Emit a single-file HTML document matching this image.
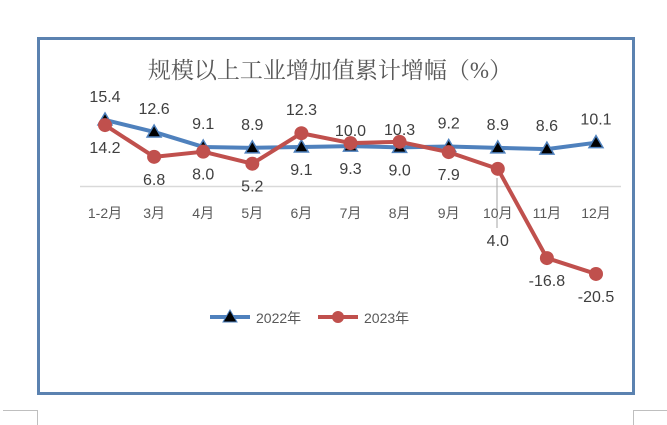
<!DOCTYPE html>
<html><head><meta charset="utf-8"><style>
html,body{margin:0;padding:0;background:#fff;width:667px;height:425px;overflow:hidden}
svg{display:block}
</style></head><body>
<svg width="667" height="425" xmlns="http://www.w3.org/2000/svg">
<rect x="38.5" y="38.5" width="595" height="355" fill="#fff" stroke="#5B82B0" stroke-width="3"/>
<g stroke="#bfbfbf" stroke-width="1">
<line x1="3" y1="410.5" x2="37" y2="410.5"/><line x1="37.5" y1="410" x2="37.5" y2="425"/>
<line x1="633.5" y1="410" x2="633.5" y2="425"/><line x1="633" y1="410.5" x2="667" y2="410.5"/>
</g>
<text x="330" y="78" text-anchor="middle" font-family="'Liberation Serif','Noto Serif CJK SC',serif" font-size="23" fill="#595959">规模以上工业增加值累计增幅（%）</text>
<line x1="80" y1="186.5" x2="621" y2="186.5" stroke="#d9d9d9" stroke-width="1.5"/>
<line x1="497" y1="228" x2="497" y2="178" stroke="#a6a6a6" stroke-width="1"/>
<g id="xlabels"></g>
<g id="series"></g>
<g>
<g>
<line x1="210" y1="317" x2="250" y2="317" stroke="#4F81BD" stroke-width="4"/>
<polygon points="230,310 237,322 223,322" fill="#000" stroke="#4F81BD" stroke-width="1"/>
<text x="256" y="323" font-family="'Liberation Sans','Noto Sans CJK SC',sans-serif" font-size="14" fill="#595959">2022年</text>
</g>
<g>
<line x1="318" y1="317" x2="358" y2="317" stroke="#C0504D" stroke-width="4"/>
<circle cx="338" cy="317" r="6" fill="#C0504D"/>
<text x="364" y="323" font-family="'Liberation Sans','Noto Sans CJK SC',sans-serif" font-size="14" fill="#595959">2023年</text>
</g>
</g>
</svg>
<script>
const categories=["1-2月","3月","4月","5月","6月","7月","8月","9月","10月","11月","12月"];
const values2022=[15.4,12.6,9.1,8.9,9.1,9.3,9.0,9.2,8.9,8.6,10.1];
const values2023=[14.2,6.8,8.0,5.2,12.3,10.0,10.3,7.9,4.0,-16.8,-20.5];
const labels2022=["15.4","12.6","9.1","8.9","9.1","9.3","9.0","9.2","8.9","8.6","10.1"];
const labels2023=["14.2","6.8","8.0","5.2","12.3","10.0","10.3","7.9","4.0","-16.8","-20.5"];
const pos2022=["a","a","a","a","b","b","b","a","a","a","a"];
const pos2023=["b","b","b","b","a","n","n","b","f","b","b"];
const NS="http://www.w3.org/2000/svg";
function xs(i){return 105+i*49.1;}
function ys(v){return 186-v*4.29;}
const font="'Liberation Sans','Noto Sans CJK SC',sans-serif";
const xl=document.getElementById('xlabels');
categories.forEach((c,i)=>{const t=document.createElementNS(NS,'text');


t.setAttribute('x',xs(i));t.setAttribute('y',218);t.setAttribute('text-anchor','middle');
t.setAttribute('font-family',font);t.setAttribute('font-size','14');t.setAttribute('fill','#595959');
t.textContent=c;xl.appendChild(t);});
const g=document.getElementById('series');
function labelY(p,y){if(p==='a')return y-18;if(p==='n')return y-7;if(p==='f')return 246;return y+28;}
function series(vals,labs,pos,color,marker,name){
 const pl=document.createElementNS(NS,'polyline');
 
 
 pl.setAttribute('points',vals.map((v,i)=>xs(i)+','+ys(v)).join(' '));
 pl.setAttribute('fill','none');pl.setAttribute('stroke',color);pl.setAttribute('stroke-width','4');pl.setAttribute('stroke-linejoin','round');
 g.appendChild(pl);
 vals.forEach((v,i)=>{const x=xs(i),y=ys(v);let m;
  if(marker==='tri'){m=document.createElementNS(NS,'polygon');
   m.setAttribute('points',`${x},${y-7} ${x+7},${y+5} ${x-7},${y+5}`);m.setAttribute('fill','#000');m.setAttribute('stroke',color);m.setAttribute('stroke-width','1.5');}
  else{m=document.createElementNS(NS,'circle');m.setAttribute('cx',x);m.setAttribute('cy',y);m.setAttribute('r','7');m.setAttribute('fill',color);}
  
  
  g.appendChild(m);
  const t=document.createElementNS(NS,'text');
  
  
  t.setAttribute('x',x);t.setAttribute('y',labelY(pos[i],y));
  t.setAttribute('text-anchor','middle');t.setAttribute('font-family',font);t.setAttribute('font-size','16');t.setAttribute('fill','#404040');
  t.textContent=labs[i];g.appendChild(t);});
}
series(values2022,labels2022,pos2022,'#4F81BD','tri','series-2022');
series(values2023,labels2023,pos2023,'#C0504D','circle','series-2023');
</script>
</body></html>
